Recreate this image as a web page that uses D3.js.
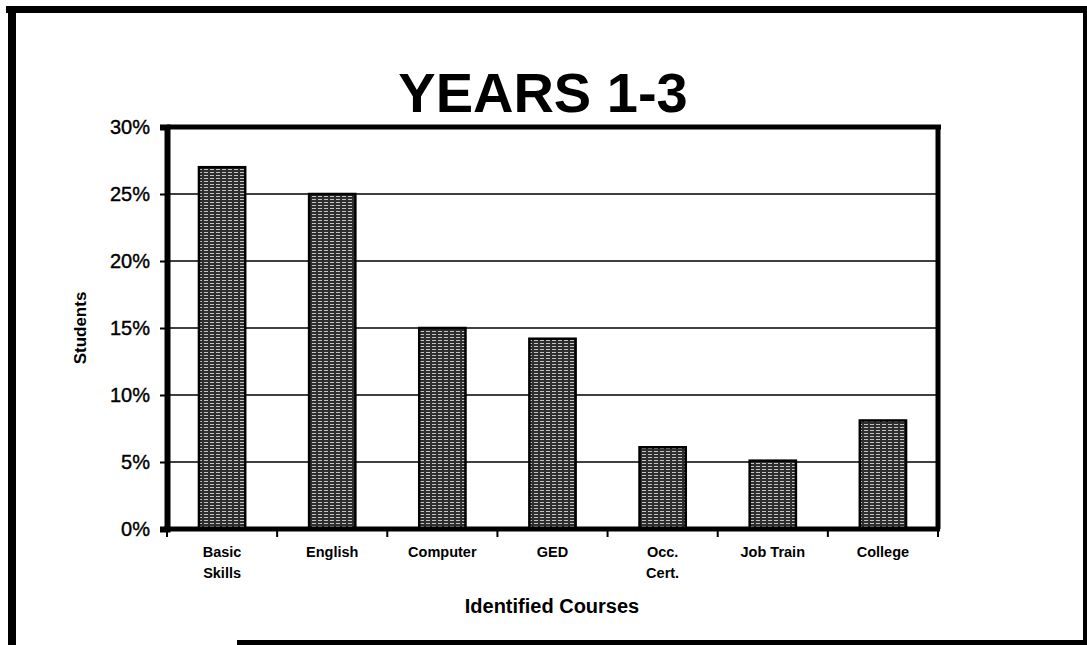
<!DOCTYPE html>
<html>
<head>
<meta charset="utf-8">
<script src="https://cdn.jsdelivr.net/npm/d3@7"></script>
<style>
  body { margin: 0; background: #fff; }
  svg { display: block; font-family: "Liberation Sans", Arial, sans-serif; }
</style>
</head>
<body>
<div id="chart"></div>
<script>
var courses = ["Basic Skills", "English", "Computer", "GED", "Occ. Cert.", "Job Train", "College"];
var courseLines = [["Basic", "Skills"], ["English"], ["Computer"], ["GED"], ["Occ.", "Cert."], ["Job Train"], ["College"]];
var students = [27, 25, 15, 14.2, 6.1, 5.1, 8.1];
var yTicks = [0, 5, 10, 15, 20, 25, 30];

var W = 1087, H = 645;
var plot = { left: 167, right: 938, top: 127, bottom: 529 };

var svg = d3.select("#chart")
  .append("svg")
  .attr("width", W)
  .attr("height", H);

// dithered bar fill
var pat = svg.append("defs")
  .append("pattern")
  .attr("id", "dither")
  .attr("patternUnits", "userSpaceOnUse")
  .attr("width", 6)
  .attr("height", 3);
pat.append("rect").attr("width", 6).attr("height", 3).attr("fill", "#2e2e2e");
pat.append("rect").attr("x", 0).attr("y", 1).attr("width", 4).attr("height", 1).attr("fill", "#c4c4c4");

// outer frame (scan edges)
svg.append("rect").attr("x", 6).attr("y", 6).attr("width", 1081).attr("height", 7).attr("fill", "#000");
svg.append("rect").attr("x", 8).attr("y", 6).attr("width", 8).attr("height", 639).attr("fill", "#000");
svg.append("rect").attr("x", 1083).attr("y", 6).attr("width", 4).attr("height", 639).attr("fill", "#000");
svg.append("rect").attr("x", 237).attr("y", 640).attr("width", 850).attr("height", 5).attr("fill", "#000");

// title
svg.append("text")
  .attr("x", 543)
  .attr("y", 112)
  .attr("text-anchor", "middle")
  .attr("font-size", 56)
  .attr("font-weight", "bold")
  .text("YEARS 1-3");

var x = d3.scaleBand()
  .domain(courses)
  .range([plot.left, plot.right])
  .paddingInner(0.58)
  .paddingOuter(0.29);

var y = d3.scaleLinear()
  .domain([0, 30])
  .range([plot.bottom, plot.top]);

// gridlines
svg.append("g")
  .selectAll("line")
  .data(yTicks.filter(d => d > 0 && d < 30))
  .join("line")
  .attr("x1", plot.left)
  .attr("x2", plot.right)
  .attr("y1", d => y(d))
  .attr("y2", d => y(d))
  .attr("stroke", "#000")
  .attr("stroke-width", 1.5);

// bars
svg.append("g")
  .selectAll("rect")
  .data(students)
  .join("rect")
  .attr("x", (d, i) => x(courses[i]))
  .attr("y", d => y(d))
  .attr("width", x.bandwidth())
  .attr("height", d => y(0) - y(d))
  .attr("fill", "url(#dither)")
  .attr("stroke", "#000")
  .attr("stroke-width", 2.5);

// plot frame: top and right
svg.append("line")
  .attr("x1", plot.left).attr("x2", plot.right + 3)
  .attr("y1", plot.top).attr("y2", plot.top)
  .attr("stroke", "#000").attr("stroke-width", 5);
svg.append("line")
  .attr("x1", plot.right).attr("x2", plot.right)
  .attr("y1", plot.top).attr("y2", plot.bottom)
  .attr("stroke", "#000").attr("stroke-width", 5);

// y axis
var yAxis = svg.append("g")
  .attr("transform", "translate(" + plot.left + ",0)")
  .call(d3.axisLeft(y).tickValues(yTicks).tickFormat(d => d + "%").tickSize(7).tickPadding(10));
yAxis.select(".domain").attr("stroke-width", 6);
yAxis.selectAll(".tick line").attr("stroke-width", 2);
yAxis.selectAll(".tick text")
  .attr("font-size", 20)
  .attr("font-family", "Liberation Sans, Arial, sans-serif")
  .attr("stroke", "#000")
  .attr("stroke-width", 0.4)
  .attr("fill", "#000");

// x axis baseline and category ticks
svg.append("line")
  .attr("x1", plot.left - 3).attr("x2", plot.right + 2)
  .attr("y1", plot.bottom).attr("y2", plot.bottom)
  .attr("stroke", "#000").attr("stroke-width", 5);
svg.append("g")
  .selectAll("line")
  .data(d3.range(courses.length + 1))
  .join("line")
  .attr("x1", i => plot.left + i * x.step())
  .attr("x2", i => plot.left + i * x.step())
  .attr("y1", plot.bottom)
  .attr("y2", plot.bottom + 8)
  .attr("stroke", "#000")
  .attr("stroke-width", 2);

// category labels
var labels = svg.append("g")
  .selectAll("text")
  .data(courses)
  .join("text")
  .attr("x", d => x(d) + x.bandwidth() / 2)
  .attr("y", 557)
  .attr("text-anchor", "middle")
  .attr("font-size", 14.5)
  .attr("font-weight", "bold");
labels.each(function(d, i) {
  d3.select(this)
    .selectAll("tspan")
    .data(courseLines[i])
    .join("tspan")
    .attr("x", x(d) + x.bandwidth() / 2)
    .attr("dy", (t, j) => j === 0 ? 0 : 21)
    .text(t => t);
});

// axis titles
svg.append("text")
  .attr("x", 552)
  .attr("y", 613)
  .attr("text-anchor", "middle")
  .attr("font-size", 20)
  .attr("font-weight", "bold")
  .text("Identified Courses");

svg.append("text")
  .attr("transform", "translate(86,328) rotate(-90)")
  .attr("text-anchor", "middle")
  .attr("font-size", 17)
  .attr("font-weight", "bold")
  .text("Students");
</script>
</body>
</html>
